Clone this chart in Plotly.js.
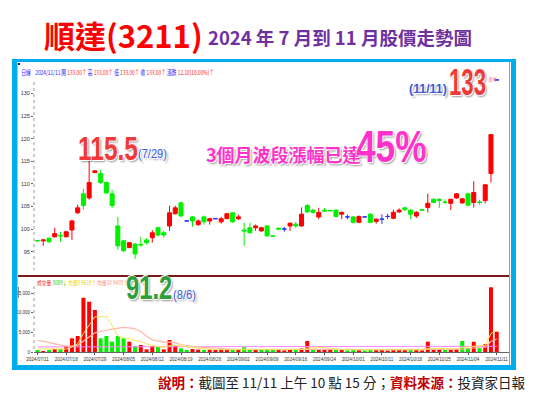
<!DOCTYPE html>
<html><head><meta charset="utf-8">
<script src="https://cdn.plot.ly/plotly-3.0.1.min.js"></script>
<style>html,body{margin:0;padding:0;background:#fff;}#chart{width:537px;height:396px;}</style>
</head><body><div id="chart"></div>
<script>
// ---- data ----
const dates = ["07/11","07/12","07/15","07/16","07/17","07/18","07/19","07/22","07/23","07/26",
"07/29","07/30","07/31","08/01","08/02","08/05","08/06","08/07","08/08","08/09",
"08/12","08/13","08/14","08/15","08/16","08/19","08/20","08/21","08/22","08/23",
"08/26","08/27","08/28","08/29","08/30","09/02","09/03","09/04","09/05","09/06",
"09/09","09/10","09/11","09/12","09/13","09/16","09/18","09/19","09/20","09/23",
"09/24","09/25","09/26","09/27","09/30","10/01","10/04","10/07","10/08","10/09",
"10/11","10/14","10/15","10/16","10/17","10/18","10/21","10/22","10/23","10/24",
"10/25","10/28","10/29","10/30","11/01","11/04","11/05","11/06","11/07","11/08","11/11"];
const openP = [97.5,97.4,98.0,98.3,98.6,98.3,99.8,103.6,107.8,106.9,
112.5,112.3,110.3,107.8,100.7,97.4,95.9,96.7,96.6,97.6,
98.1,100.3,99.2,100.7,103.4,105.8,101.8,102.7,101.0,102.7,
101.8,102.3,101.6,102.3,103.6,102.3,99.8,100.3,100.3,99.6,
100.7,98.5,100.2,100.0,100.7,101.1,100.7,105.2,104.2,102.7,
104.2,104.15,104.2,103.3,102.7,102.7,101.5,102.7,103.3,101.7,
102.2,102.8,102.4,103.8,104.7,104.2,102.9,104.3,104.8,106.6,
106.6,106.0,105.7,106.9,105.8,107.8,105.9,106.0,106.3,112.3,133];
const highP = [97.6,97.6,98.1,100.3,99.4,99.6,102.1,105.4,108.9,115.2,
113.0,113.1,110.5,108.7,102.7,97.6,97.1,96.9,98.3,98.0,
99.8,100.5,99.6,105.2,105.2,106.1,101.8,102.9,102.1,103.0,
102.5,102.3,102.7,103.6,103.8,103.2,101.4,101.4,101.0,100.5,
100.9,98.6,100.3,100.5,101.5,101.6,104.8,105.5,104.5,104.7,
104.7,104.2,104.4,103.9,103.2,102.9,103.0,102.7,103.5,102.4,
103.3,103.4,104.3,104.6,104.9,104.4,104.0,104.4,107.8,106.8,
106.8,106.6,106.7,108.0,106.9,108.0,110.6,106.5,109.9,120.9,133];
const lowP = [97.3,96.3,97.0,98.1,97.2,98.2,97.6,103.4,104.3,106.5,
112.4,110.0,107.8,104.7,95.4,95.0,95.8,93.4,96.1,96.6,
97.0,98.3,98.1,99.6,103.2,102.7,101.8,100.5,100.7,101.0,
101.0,102.3,101.2,102.3,101.4,102.0,96.3,99.0,99.6,99.4,
98.3,98.3,99.9,99.4,99.6,100.3,100.5,103.6,103.4,102.2,
103.8,104.0,102.6,102.2,102.2,101.2,101.3,102.7,101.3,101.2,
101.1,102.2,102.2,103.6,104.0,102.2,102.5,104.1,103.7,105.7,
104.7,105.6,104.2,106.7,105.6,105.1,104.8,105.4,105.7,110.3,133];
const closeP = [97.4,97.6,97.2,99.0,98.5,99.4,101.8,104.7,105.2,110.3,
112.9,110.3,108.0,105.2,96.3,95.2,97.0,94.5,96.5,97.0,
99.2,98.7,98.7,103.6,104.7,102.9,101.8,101.8,101.8,101.6,
102.3,102.3,102.3,103.4,101.6,102.7,99.6,99.2,100.7,100.3,
98.5,98.4,100.0,100.0,101.3,100.7,103.3,103.8,103.7,103.7,
104.0,104.05,102.8,103.7,102.7,101.5,102.8,102.7,101.5,102.2,
102.2,102.8,103.7,104.2,104.3,103.3,103.7,104.2,105.7,105.9,
106.3,105.9,106.6,107.8,106.7,105.3,108.1,105.9,109.8,120.9,133];
const volume = [500,250,500,760,760,1500,3480,4070,13800,12800,
10690,3480,4070,2630,4070,3480,2630,1530,1780,680,
1530,1350,680,3050,1780,930,500,750,600,500,
600,500,700,600,700,600,1200,700,500,600,
700,600,500,400,600,500,900,2800,700,600,
600,500,600,500,400,600,500,400,600,500,
500,400,600,700,500,600,500,400,2630,700,
600,500,700,800,2800,1000,2600,1000,2000,16460,5170];
const volMA5 = [800,760,700,650,600,750,1300,2100,4700,7000,
8970,8970,8970,6730,4080,3550,3400,2870,2700,2020,
1630,1370,1200,1600,1680,1560,1390,1200,900,800,
700,650,600,600,620,650,750,750,700,700,
650,600,600,600,600,600,650,1000,1100,1100,
1100,1000,700,600,550,550,550,550,500,500,
550,550,550,550,550,550,550,550,950,950,
950,950,950,800,1100,1300,1400,1600,1700,4700,5400];
const volMA10 = [3000,2700,2300,2000,1700,1500,1500,1700,2800,3900,
4900,5200,5600,5800,6100,6260,6150,5900,5200,4000,
3100,2800,2500,2500,2300,1900,1600,1400,1300,1200,
1100,900,800,750,700,700,700,700,700,700,
700,700,700,700,650,650,650,800,800,800,
800,800,800,800,800,650,600,600,600,600,
600,600,600,600,600,600,600,600,750,750,
750,750,750,750,750,950,1050,1100,1150,2700,3300];
const volMA60 = [1300,1300,1300,1300,1300,1300,1300,1300,1300,1300,
1300,1300,1300,1300,1300,1300,1300,1300,1300,1300,
1300,1300,1300,1300,1300,1300,1300,1300,1300,1300,
1300,1300,1300,1300,1300,1300,1300,1300,1300,1300,
1300,1300,1300,1300,1400,1450,1450,1450,1450,1450,
1450,1450,1450,1450,1450,1450,1450,1450,1450,1450,
1450,1450,1450,1450,1450,1450,1450,1450,1450,1450,
1450,1450,1450,1450,1450,1450,1450,1450,1450,1450,1450];
const priceTicks = [95,100,105,110,115,120,125,130];
const volTicks = [0,5000,10000,15000];
const volTickText = ["0","5,000","10,000","15,000"];
const labelIdx = [0,5,10,15,20,25,30,35,40,45,50,55,60,65,70,75,80];

// ---- helpers ----
const W=537,H=396;
const X=p=>p/W, Y=p=>1-p/H;
const idx = dates.map((d,i)=>i);
const RED='#FF0000', GREEN='#00F000', BLUE='#3333FF';

function candleSet(filter, col){
  const ii = idx.filter(filter);
  return {type:'candlestick', xaxis:'x', yaxis:'y',
    x: ii, open: ii.map(i=>openP[i]), high: ii.map(i=>highP[i]),
    low: ii.map(i=>lowP[i]), close: ii.map(i=>closeP[i]),
    increasing:{line:{color:col,width:1},fillcolor:col},
    decreasing:{line:{color:col,width:1},fillcolor:col},
    whiskerwidth:0, hoverinfo:'skip', showlegend:false};
}
const traces = [
  candleSet(i=>closeP[i]>openP[i], RED),
  candleSet(i=>closeP[i]<openP[i], GREEN),
  candleSet(i=>closeP[i]===openP[i], BLUE)
];
const volColors = volume.map((v,i)=>{
  const prev = i>0 ? closeP[i-1] : openP[i];
  return closeP[i]>=prev ? RED : GREEN;
});
traces.push({type:'bar', xaxis:'x2', yaxis:'y2', x: idx, y: volume,
  marker:{color:volColors, line:{width:0}}, width:0.7, hoverinfo:'skip', showlegend:false});
traces.push({type:'scatter', mode:'lines', xaxis:'x2', yaxis:'y2', x: idx, y: volMA60,
  line:{color:'#FF88FF', width:1}, hoverinfo:'skip', showlegend:false});
traces.push({type:'scatter', mode:'lines', xaxis:'x2', yaxis:'y2', x: idx, y: volMA10,
  line:{color:'#FFB8A8', width:1.2}, hoverinfo:'skip', showlegend:false});
traces.push({type:'scatter', mode:'lines', xaxis:'x2', yaxis:'y2', x: idx, y: volMA5,
  line:{color:'#F5E650', width:1}, hoverinfo:'skip', showlegend:false});

const xr = [(34-37.5)/5.74, (509-37.5)/5.74];
const arial = '"Liberation Sans",Arial,sans-serif';
const cjk = '"Noto Sans CJK TC","Noto Sans CJK SC",sans-serif';

const shapes = [];
function rect(x0,y0,x1,y1,color){shapes.push({type:'rect',xref:'paper',yref:'paper',x0:X(x0),x1:X(x1),y0:Y(y1),y1:Y(y0),fillcolor:color,line:{width:0},layer:'above'});}
function line(x0,y0,x1,y1,color,w,dash){shapes.push({type:'line',xref:'paper',yref:'paper',x0:X(x0),x1:X(x1),y0:Y(y0),y1:Y(y1),line:{color:color,width:w,dash:dash||'solid'},layer:'above'});}
const FRAME='#00AEEF';
rect(12,59,516,62,FRAME);
rect(12,59,17.5,370,FRAME);
rect(511,59,516,370,FRAME);
rect(12,365,516,370,FRAME);
line(509.5,62,509.5,365,'#9a9a9a',1);
line(18,276,509,276,'#7a1a1a',2);
line(34,82,34,270,'#999',1,'dot');
line(34,286,34,352,'#999',1,'dot');
line(18.5,287,18.5,298,'#888',1);
rect(18,63,20,65,'#222');

const ann = []; const squeeze = {};
function txt(x,y,text,size,color,family,opts,sx){
  if(sx) squeeze[ann.length]=sx;
  ann.push(Object.assign({xref:'paper',yref:'paper',x:X(x),y:Y(y),text:text,showarrow:false,
    xanchor:'left',yanchor:'middle',font:{size:size,color:color,family:family}},opts||{}));
}
function big(x,y,text,size,color,sx,bold){
  txt(x,y,text,size,color,arial,{font:{size:size,color:color,family:arial,weight:bold?'bold':'normal',shadow:sh}},sx);
}
const sh='1px 1px 0 #fff, -1px -1px 0 #fff, 2px 2px 2px rgba(0,0,0,0.4)';
txt(205,34,'順達(3211)',31,'#FF0000',cjk,{xanchor:'right',font:{size:31,color:'#FF0000',family:cjk,weight:'bold'}});
txt(206,37,'2024 年 7 月到 11 月股價走勢圖',18.5,'#7030A0',cjk,{font:{size:18.5,color:'#7030A0',family:cjk,weight:'bold'}});
const b='#1a1aff', r='#ff2020';
txt(19,72,'<span style="color:'+b+'">日線</span>    <span style="color:'+b+'">2024/11/11 開</span> <span style="color:'+r+'">133.00↑</span> <span style="color:'+b+'">高</span> <span style="color:'+r+'">133.00↑</span> <span style="color:'+b+'">低</span> <span style="color:'+r+'">133.00↑</span> <span style="color:'+b+'">收</span> <span style="color:'+r+'">133.00↑</span> <span style="color:'+b+'">漲跌</span> <span style="color:'+r+'">12.10(10.00%)↑</span>',6.5,b,cjk,{},0.74);
txt(35,282,'<span style="color:#ff2020">成交量</span> <span style="color:#22cc22">3089↓</span> <span style="color:#e8d800">均量5 9619↑</span> <span style="color:#ff9080">均量10 9405↑</span>',6,'#f00',cjk,{},0.78);
big(76,148,'115.5',34,'#F03A3A',0.72,true);
big(136,154,'(7/29)',13.5,'#3B5BDB',0.82,false);
txt(204,154,'3個月波段漲幅已達',18,'#FF33CC',cjk,{font:{size:18,color:'#FF33CC',family:cjk,weight:'bold',shadow:sh}});
big(354,146,'45%',44,'#FF33CC',0.8,true);
big(407,89,'(11/11)',13,'#3B5BDB',0.95,true);
big(447,82,'133',37,'#F03A3A',0.6,true);
txt(486,80,'漲停',4.5,'#ff6699',cjk);
big(124,287,'91.2',34,'#2E9E3A',0.7,true);
big(171,294,'(8/6)',13,'#3B5BDB',0.86,false);
txt(527,382,'<span style="color:#C00000"><b>說明：</b></span>截圖至 11/11 上午 10 點 15 分；<span style="color:#C00000"><b>資料來源：</b></span>投資家日報',13.5,'#222',cjk,{xanchor:'right'});

const layout = {
  width:W, height:H, margin:{l:0,r:0,t:0,b:0}, paper_bgcolor:'#fff', plot_bgcolor:'rgba(0,0,0,0)',
  showlegend:false, boxgap:0.0, boxgroupgap:0.3, bargap:0.3,
  xaxis:{domain:[X(34),X(509)], range:xr, anchor:'y', showticklabels:false, showgrid:false, zeroline:false,
    showline:false, ticks:'', rangeslider:{visible:false}, fixedrange:true},
  yaxis:{domain:[Y(276),Y(70)], range:[130-(276-93.5)/4.52, 130+(93.5-70)/4.52], anchor:'x',
    tickvals:priceTicks, ticktext:priceTicks.map(String), ticks:'outside', ticklen:2, tickcolor:'#666',
    tickfont:{size:5.5,color:'#333',family:arial}, showgrid:false, zeroline:false, showline:false},
  xaxis2:{domain:[X(34),X(509)], range:xr, anchor:'y2', tickvals:labelIdx.map(i=>i),
    ticktext:labelIdx.map(i=>'2024/'+dates[i]), ticks:'outside', ticklen:2, tickcolor:'#555',
    tickfont:{size:4.6,color:'#333',family:arial}, tickangle:0, showgrid:false, zeroline:false,
    showline:true, linecolor:'#666', linewidth:1},
  yaxis2:{domain:[Y(352),Y(280)], range:[0,(352-280)/3.93*1000], anchor:'x2',
    tickvals:volTicks, ticktext:volTickText, ticks:'outside', ticklen:2, tickcolor:'#666',
    tickfont:{size:4.5,color:'#333',family:arial}, showgrid:false, zeroline:false, showline:false},
  shapes:shapes, annotations:ann
};
Plotly.newPlot('chart', traces, layout, {staticPlot:true, displayModeBar:false}).then(gd=>{
  gd.querySelectorAll('.annotation').forEach(g=>{
    const i = +g.getAttribute('data-index');
    const s = squeeze[i];
    if(!s) return;
    const t = g.querySelector('text');
    if(!t) return;
    t.style.transformBox='fill-box';
    t.style.transformOrigin='0% 50%';
    t.style.transform='scaleX('+s+')';
  });
});
</script></body></html>
